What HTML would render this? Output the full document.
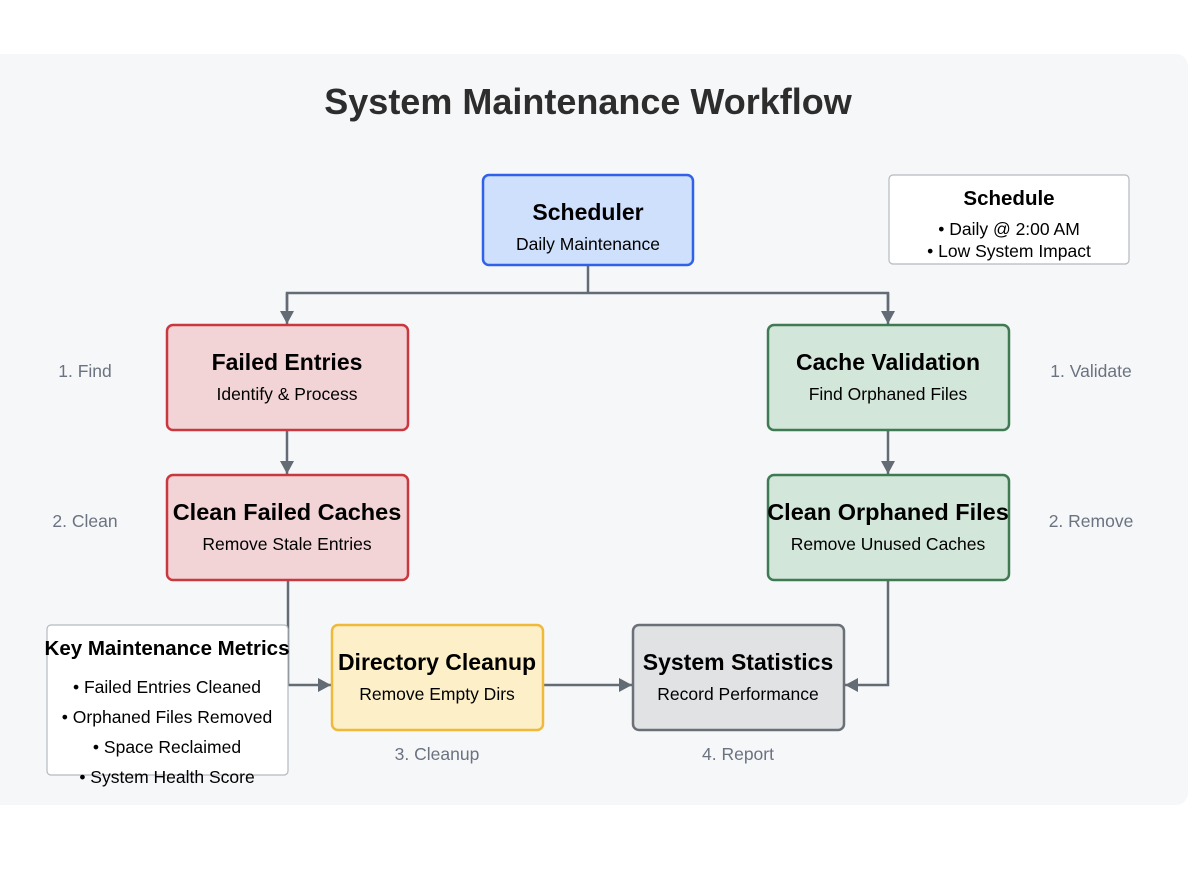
<!DOCTYPE html>
<html><head><meta charset="utf-8"><style>
html,body{margin:0;padding:0;background:#fff;}
svg{display:block;font-family:"Liberation Sans",Arial,sans-serif;}
</style></head><body>
<svg width="1193" height="874" viewBox="0 0 1193 874" xmlns="http://www.w3.org/2000/svg">
<defs>
<marker id="a" markerWidth="14" markerHeight="14" refX="13" refY="7" orient="auto" markerUnits="userSpaceOnUse">
<path d="M0,0 L13,7 L0,14 z" fill="#636b74"/></marker>
</defs>
<rect x="-12" y="54" width="1200" height="751" rx="12" fill="#f6f7f9"/>
<text x="588" y="114" text-anchor="middle" font-size="36" font-weight="bold" fill="#2d2d2d">System Maintenance Workflow</text>

<g stroke="#636b74" stroke-width="2.5" fill="none">
<path d="M588,265 V293"/>
<path d="M287,310 V293 H888 V310" />
<path d="M287,293 V324" marker-end="url(#a)"/>
<path d="M888,293 V324" marker-end="url(#a)"/>
<path d="M287,430 V474" marker-end="url(#a)"/>
<path d="M888,430 V474" marker-end="url(#a)"/>
<path d="M288,580 V685 H331" marker-end="url(#a)"/>
<path d="M543,685 H632" marker-end="url(#a)"/>
<path d="M888,580 V685 H845" marker-end="url(#a)"/>
</g>

<g stroke-width="2.5">
<rect x="483" y="175" width="210" height="90" rx="6" fill="#cfe0fc" stroke="#2f62e8"/>
<rect x="167" y="325" width="241" height="105" rx="6" fill="#f2d4d6" stroke="#c9383f"/>
<rect x="768" y="325" width="241" height="105" rx="6" fill="#d3e6da" stroke="#3e7a52"/>
<rect x="167" y="475" width="241" height="105" rx="6" fill="#f2d4d6" stroke="#c9383f"/>
<rect x="768" y="475" width="241" height="105" rx="6" fill="#d3e6da" stroke="#3e7a52"/>
<rect x="332" y="625" width="211" height="105" rx="6" fill="#fdf0c8" stroke="#f0b93a"/>
<rect x="633" y="625" width="211" height="105" rx="6" fill="#e1e2e4" stroke="#6b7078"/>
</g>
<rect x="889" y="175" width="240" height="89" rx="4" fill="#fff" stroke="#b5b9c0" stroke-width="1.2"/>
<rect x="47" y="625" width="241" height="150" rx="4" fill="#fff" stroke="#b5b9c0" stroke-width="1.2"/>

<g text-anchor="middle" fill="#000">
<text x="588" y="220" font-size="23" font-weight="bold">Scheduler</text>
<text x="588" y="250" font-size="17.5">Daily Maintenance</text>
<text x="287" y="370" font-size="23" font-weight="bold">Failed Entries</text>
<text x="287" y="400" font-size="17.5">Identify &amp; Process</text>
<text x="888" y="370" font-size="23" font-weight="bold">Cache Validation</text>
<text x="888" y="400" font-size="17.5">Find Orphaned Files</text>
<text x="287" y="520" font-size="23.5" font-weight="bold">Clean Failed Caches</text>
<text x="287" y="550" font-size="17.5">Remove Stale Entries</text>
<text x="888" y="520" font-size="23.5" font-weight="bold">Clean Orphaned Files</text>
<text x="888" y="550" font-size="17.5">Remove Unused Caches</text>
<text x="437" y="670" font-size="23" font-weight="bold">Directory Cleanup</text>
<text x="437" y="700" font-size="17.5">Remove Empty Dirs</text>
<text x="738" y="670" font-size="23" font-weight="bold">System Statistics</text>
<text x="738" y="700" font-size="17.5">Record Performance</text>
<text x="1009" y="205" font-size="20.5" font-weight="bold">Schedule</text>
<text x="1009" y="235" font-size="17.5">• Daily @ 2:00 AM</text>
<text x="1009" y="257" font-size="17.5">• Low System Impact</text>
<text x="167" y="655" font-size="20.5" font-weight="bold">Key Maintenance Metrics</text>
<text x="167" y="693" font-size="17.5">• Failed Entries Cleaned</text>
<text x="167" y="723" font-size="17.5">• Orphaned Files Removed</text>
<text x="167" y="753" font-size="17.5">• Space Reclaimed</text>
<text x="167" y="783" font-size="17.5">• System Health Score</text>
</g>
<g text-anchor="middle" fill="#6b7280" font-size="17.5">
<text x="85" y="377">1. Find</text>
<text x="85" y="527">2. Clean</text>
<text x="1091" y="377">1. Validate</text>
<text x="1091" y="527">2. Remove</text>
<text x="437" y="760">3. Cleanup</text>
<text x="738" y="760">4. Report</text>
</g>
</svg>
</body></html>
